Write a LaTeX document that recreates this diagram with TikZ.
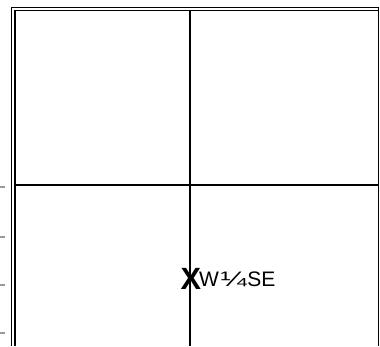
\documentclass[tikz,border=0pt]{standalone}
\usepackage{fontspec}
\setmainfont{Liberation Sans}
\begin{document}
\begin{tikzpicture}[x=1pt,y=-1pt,
  gridline/.style={black,line width=2pt},
  frameline/.style={black,line width=1.1pt},
  tick/.style={gray!80,line width=1.2pt}]
  \useasboundingbox (0,0) rectangle (380,346);
  % double frame, open at the bottom
  \draw[frameline] (11.5,346) -- (11.5,7.8) -- (379,7.8);
  \draw[frameline,line width=1.6pt] (14.7,346) -- (14.7,10.6) -- (379,10.6);
  \draw[frameline,line width=1pt] (378.8,7.8) -- (378.8,346);
  % quarter lines
  \draw[gridline] (190,10.6) -- (190,346);
  \draw[gridline] (14.7,185.3) -- (378.8,185.3);
  % marks on the left
  \foreach \y in {187,237,285,333} {
    \draw[tick] (0,\y) -- (5,\y);
  }
  \node[anchor=base west,inner sep=0pt] (mark) at (180.5,289)
    {\fontsize{30.7}{30.7}\selectfont\bfseries X};
  \node[anchor=base west,inner sep=0pt] (quarter) at (199,286)
    {\fontsize{21}{21}\selectfont W\kern1.5pt\scalebox{1.5}[1]{¼}\kern0.5ptSE};
\end{tikzpicture}
\end{document}
